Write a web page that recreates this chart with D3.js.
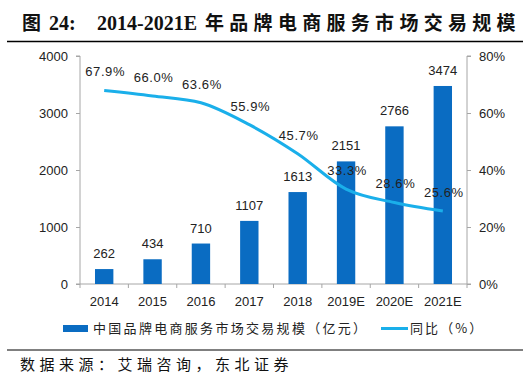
<!DOCTYPE html>
<html><head><meta charset="utf-8">
<script src="https://cdn.jsdelivr.net/npm/d3@7"></script>
<style>
html,body{margin:0;padding:0;background:#fff;}
svg{display:block;}
</style>
</head><body>
<svg id="c" width="523" height="382"></svg>
<script>
const categories = ["2014","2015","2016","2017","2018","2019E","2020E","2021E"];
const scaleValues = [262,434,710,1107,1613,2151,2766,3474];
const growthValues = [67.9,66.0,63.6,55.9,45.7,33.3,28.6,25.6];
const leftTicks = [0,1000,2000,3000,4000];
const rightTicks = [0,20,40,60,80];
const titleParts = ["图", "24:", "2014-2021E", "年品牌电商服务市场交易规模"];
const barLegend = "中国品牌电商服务市场交易规模（亿元）";
const lineLegend = "同比（%）";
const sourceText = "数据来源：艾瑞咨询，东北证券";

(function () {
const svg = d3.select("#c");
const mL = 80, mR = 467, mT = 56, mB = 284;
const barColor = "#0A6CC2", lineColor = "#1AAFEA", axisColor = "#A6A6A6";
const labelFont = "Arial, 'Liberation Sans', sans-serif";
const cjkFont = "'Noto Sans CJK SC', sans-serif";
const serifFont = "'Liberation Serif', 'Times New Roman', serif";

// title
const t = svg.append("text").attr("y", 30).attr("font-weight", "bold").attr("font-size", 19).attr("fill", "#111");
t.append("tspan").attr("x", 22).attr("font-family", cjkFont).text(titleParts[0]);
t.append("tspan").attr("x", 49).attr("font-family", serifFont).attr("font-size", 20).text(titleParts[1]);
t.append("tspan").attr("x", 97).attr("font-family", serifFont).attr("font-size", 20).text(titleParts[2]);
t.append("tspan").attr("x", 205).attr("font-family", cjkFont).attr("letter-spacing", 5.3).text(titleParts[3]);
svg.append("line").attr("x1", 7).attr("x2", 523).attr("y1", 41.5).attr("y2", 41.5)
  .attr("stroke", "#000").attr("stroke-width", 1.5);

const x = d3.scaleBand().domain(categories).range([mL, mR]).paddingInner(0.62).paddingOuter(0.31);
const xb = d3.scaleBand().domain(categories).range([mL, mR]);
const yL = d3.scaleLinear().domain([0, 4000]).range([mB, mT]);
const yR = d3.scaleLinear().domain([0, 80]).range([mB, mT]);

const gL = svg.append("g").attr("transform", `translate(${mL},0)`)
  .call(d3.axisLeft(yL).tickValues(leftTicks).tickSize(4).tickPadding(8).tickFormat(d3.format("d")));
const gR = svg.append("g").attr("transform", `translate(${mR},0)`)
  .call(d3.axisRight(yR).tickValues(rightTicks).tickSize(4).tickPadding(8).tickFormat(d => d + "%"));
[gL, gR].forEach(g => {
  g.select(".domain").attr("stroke", axisColor);
  g.selectAll(".tick line").attr("stroke", axisColor);
  g.selectAll("text").attr("font-family", labelFont).attr("font-size", 13).attr("fill", "#222");
});
gL.select(".domain").attr("d", `M-4,${mT}H0V${mB}H-4`);
gR.select(".domain").attr("d", `M4,${mT}H0V${mB}H4`);

const gX = svg.append("g").attr("transform", `translate(0,${mB})`);
gX.append("line").attr("x1", mL).attr("x2", mR).attr("stroke", axisColor);
const bounds = categories.map(c => xb(c)).concat([mR]);
gX.selectAll("line.tk").data(bounds).enter().append("line").attr("class", "tk")
  .attr("x1", d => d).attr("x2", d => d).attr("y1", 0).attr("y2", 4).attr("stroke", axisColor);
gX.selectAll("text").data(categories).enter().append("text")
  .attr("x", d => xb(d) + xb.bandwidth() / 2).attr("y", 22)
  .attr("text-anchor", "middle").attr("font-family", labelFont).attr("font-size", 13).attr("fill", "#222")
  .text(d => d);

svg.selectAll("rect.bar").data(scaleValues).enter().append("rect").attr("class", "bar")
  .attr("x", (d, i) => x(categories[i])).attr("width", x.bandwidth())
  .attr("y", d => yL(d)).attr("height", d => mB - yL(d)).attr("fill", barColor);
svg.selectAll("text.bl").data(scaleValues).enter().append("text").attr("class", "bl")
  .attr("x", (d, i) => xb(categories[i]) + xb.bandwidth() / 2).attr("y", d => yL(d) - 11)
  .attr("text-anchor", "middle").attr("font-family", labelFont).attr("font-size", 13).attr("fill", "#222")
  .text(d => d);

const line = d3.line().x((d, i) => xb(categories[i]) + xb.bandwidth() / 2).y(d => yR(d))
  .curve(d3.curveMonotoneX);
svg.append("path").datum(growthValues).attr("d", line).attr("fill", "none")
  .attr("stroke", lineColor).attr("stroke-width", 3);
svg.selectAll("text.pl").data(growthValues).enter().append("text").attr("class", "pl")
  .attr("x", (d, i) => xb(categories[i]) + xb.bandwidth() / 2 + 1).attr("y", d => yR(d) - 14)
  .attr("text-anchor", "middle").attr("font-family", labelFont).attr("font-size", 13).attr("fill", "#222")
  .attr("letter-spacing", 0.6)
  .text(d => d.toFixed(1) + "%");

svg.append("rect").attr("x", 63).attr("y", 325).attr("width", 25).attr("height", 7).attr("fill", barColor);
svg.append("text").attr("x", 93).attr("y", 333).attr("font-family", cjkFont).attr("font-size", 13)
  .attr("fill", "#222").attr("letter-spacing", 2.3).text(barLegend);
svg.append("line").attr("x1", 381).attr("x2", 408).attr("y1", 328.5).attr("y2", 328.5)
  .attr("stroke", lineColor).attr("stroke-width", 3);
svg.append("text").attr("x", 410).attr("y", 333).attr("font-family", cjkFont).attr("font-size", 13)
  .attr("fill", "#222").attr("letter-spacing", 2.1).text(lineLegend);

svg.append("line").attr("x1", 7).attr("x2", 523).attr("y1", 350).attr("y2", 350)
  .attr("stroke", "#000").attr("stroke-width", 1);
svg.append("text").attr("x", 20).attr("y", 370).attr("font-family", cjkFont).attr("font-size", 15)
  .attr("fill", "#111").attr("letter-spacing", 4.5).text(sourceText);
})();
</script>
</body></html>
